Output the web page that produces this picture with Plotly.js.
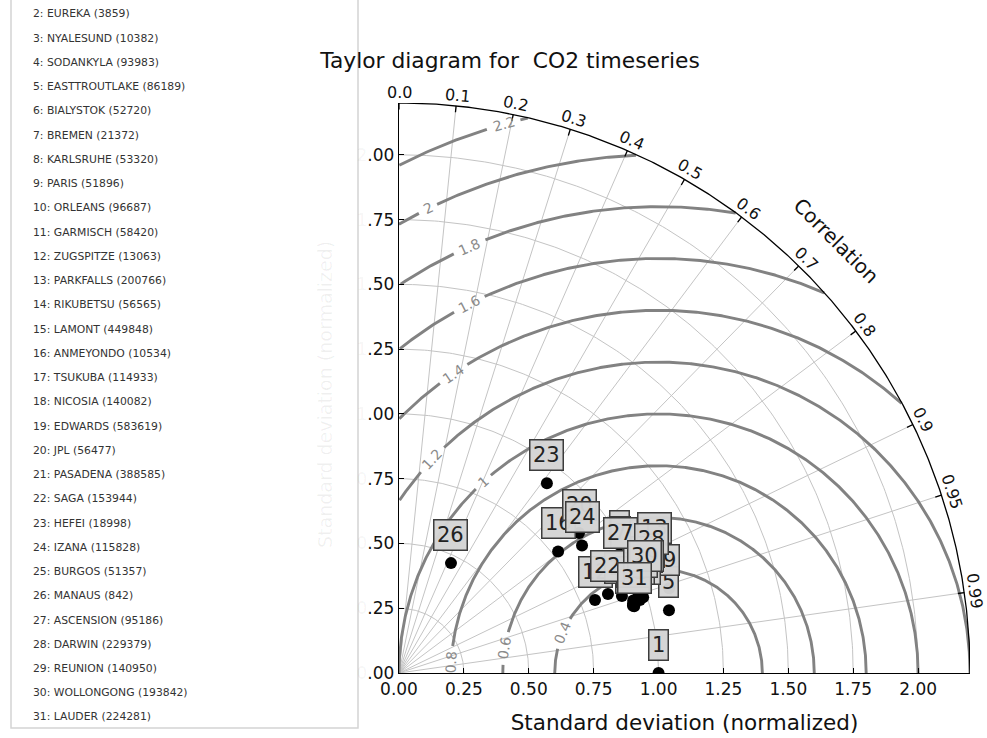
<!DOCTYPE html>
<html><head><meta charset="utf-8">
<script src="https://cdn.plot.ly/plotly-3.0.1.min.js"></script>
<style>html,body{margin:0;padding:0;background:#fff}</style>
</head><body><div id="chart" style="width:987px;height:738px"></div>
<script>
// ---------------- data ----------------
const stationNumbers = [1,2,3,4,5,6,7,8,9,10,11,12,13,14,15,16,17,18,19,20,21,22,23,24,25,26,27,28,29,30,31];
const stationNames = [null,'EUREKA','NYALESUND','SODANKYLA','EASTTROUTLAKE','BIALYSTOK','BREMEN','KARLSRUHE','PARIS','ORLEANS','GARMISCH','ZUGSPITZE','PARKFALLS','RIKUBETSU','LAMONT','ANMEYONDO','TSUKUBA','NICOSIA','EDWARDS','JPL','PASADENA','SAGA','HEFEI','IZANA','BURGOS','MANAUS','ASCENSION','DARWIN','REUNION','WOLLONGONG','LAUDER'];
const sampleCounts = [null,3859,10382,93983,86189,52720,21372,53320,51896,96687,58420,13063,200766,56565,449848,10534,114933,140082,583619,56477,388585,153944,18998,115828,51357,842,95186,229379,140950,193842,224281];
// normalized standard deviation and correlation of each station
const normStd = [1.000,0.940,0.965,1.011,1.068,1.058,0.957,0.970,1.091,0.938,1.007,0.806,1.085,0.985,0.966,0.772,1.015,0.909,1.021,0.879,0.945,0.861,0.928,0.860,0.983,0.469,0.955,1.057,1.012,1.008,0.942];
const corr    = [1.000,0.959,0.880,0.938,0.974,0.921,0.890,0.957,0.954,0.961,0.942,0.937,0.909,0.955,0.953,0.794,0.938,0.945,0.936,0.789,0.955,0.935,0.614,0.820,0.945,0.427,0.892,0.922,0.941,0.940,0.962];
// axis / grid definitions
const stdTicks = [0,0.25,0.5,0.75,1.0,1.25,1.5,1.75,2.0];
const stdGridLevels = [0.25,0.5,0.75,1.0,1.25,1.5,1.75,2.0];
const corrTicks = [0.0,0.1,0.2,0.3,0.4,0.5,0.6,0.7,0.8,0.9,0.95,0.99];
const corrTickLabels = ['0.0','0.1','0.2','0.3','0.4','0.5','0.6','0.7','0.8','0.9','0.95','0.99'];
const rmsLevels = [0.4,0.6,0.8,1.0,1.2,1.4,1.6,1.8,2.0,2.2];
const rmsLabelAngles = [157.5,170.9,177,132.5,136.6,124.4,117.1,113.9,116.3,105.7]; // label placement (deg around reference point)
const refStd = 1.0;
const RMAX = 2.2;

// ---------------- geometry helpers ----------------
const PX = 259.5; // px per unit (for label gaps)
const rad = a => a*Math.PI/180;
const L = 399, T = 103, W = 571, H = 570;
const px2paperX = X => (X - L)/W;
const px2paperY = Y => (T + H - Y)/H;
const d2p = v => v / RMAX; // data -> paper (both axes span 0..RMAX)

const traces = [];
// std dev arcs + correlation rays (thin grid)
let gx = [], gy = [];
stdGridLevels.forEach(r => {
  for (let a = 0; a <= 90.001; a += 0.5) { gx.push(r*Math.cos(rad(a))); gy.push(r*Math.sin(rad(a))); }
  gx.push(null); gy.push(null);
});
corrTicks.forEach(c => {
  if (c === 0) return;
  const t = Math.acos(c);
  gx.push(0, RMAX*Math.cos(t), null); gy.push(0, RMAX*Math.sin(t), null);
});
traces.push({x:gx, y:gy, mode:'lines', line:{color:'#c4c4c4', width:1}, hoverinfo:'skip', showlegend:false, cliponaxis:false});

// RMS contours
const annotations = [];
function labWidth(s, fs){ let w=0; for (const ch of s) w += (ch==='.'?0.318:0.636)*fs; return w; }
let cx = [], cy = [];
rmsLevels.forEach((R, i) => {
  const lab = String(R);
  const phiL = rad(rmsLabelAngles[i]);
  const dphi = (labWidth(lab,14)/2 + 5)/(R*PX);
  let prev = false;
  for (let a = 0; a <= 180.001; a += 0.25) {
    const p = rad(a);
    const x = refStd + R*Math.cos(p), y = R*Math.sin(p);
    const ok = x >= 0 && (x*x + y*y) <= RMAX*RMAX + 1e-9 && Math.abs(p - phiL) > dphi;
    if (ok) { cx.push(x); cy.push(y); prev = true; }
    else if (prev) { cx.push(null); cy.push(null); prev = false; }
  }
  cx.push(null); cy.push(null);
  annotations.push({x: refStd + R*Math.cos(phiL), y: R*Math.sin(phiL), xref:'x', yref:'y', text: lab,
    xanchor:'center', yanchor:'middle',
    showarrow:false, textangle: 90 - rmsLabelAngles[i], font:{size:14, color:'#8a8a8a'}});
});
traces.push({x:cx, y:cy, mode:'lines', line:{color:'#828282', width:2.9}, hoverinfo:'skip', showlegend:false, cliponaxis:false});

// outer arc + correlation ticks
let ox = [], oy = [];
for (let a = 0; a <= 90.001; a += 0.25) { ox.push(RMAX*Math.cos(rad(a))); oy.push(RMAX*Math.sin(rad(a))); }
ox.push(null); oy.push(null);
corrTicks.forEach(c => {
  const t = Math.acos(c);
  ox.push(RMAX*Math.cos(t), (RMAX-0.025)*Math.cos(t), null);
  oy.push(RMAX*Math.sin(t), (RMAX-0.025)*Math.sin(t), null);
});
traces.push({x:ox, y:oy, mode:'lines', line:{color:'#000', width:1.3}, hoverinfo:'skip', showlegend:false, cliponaxis:false});

// correlation labels (paper coords so those outside the axis range still show)
corrTicks.forEach((c, i) => {
  const t = Math.acos(c);
  const rl = RMAX + 0.042;
  annotations.push({x: d2p(rl*Math.cos(t)), y: d2p(rl*Math.sin(t)), xref:'paper', yref:'paper', text: corrTickLabels[i],
    xanchor:'center', yanchor:'middle', borderpad:0,
    showarrow:false, textangle: 90 - t*180/Math.PI, font:{size:16, color:'#111'}});
});
annotations.push({x: d2p(2.371*Math.cos(rad(44.7))), y: d2p(2.371*Math.sin(rad(44.7))), xref:'paper', yref:'paper', text:'Correlation',
  xanchor:'center', yanchor:'middle', showarrow:false, textangle:45, font:{size:20, color:'#111'}});

// station points
const px = normStd.map((s,i) => s*corr[i]);
const py = normStd.map((s,i) => s*Math.sqrt(Math.max(0,1 - corr[i]*corr[i])));
traces.push({x:px, y:py, mode:'markers', marker:{color:'#000', size:12}, text: stationNumbers.map(String),
  hoverinfo:'text', showlegend:false, cliponaxis:true});

// station labels (boxes)
stationNumbers.forEach((n, i) => {
  annotations.push({x: px[i], y: py[i], xref:'x', yref:'y', yshift:28, text: String(n), showarrow:false,
    xanchor:'center', yanchor:'middle',
    font:{size:21, color:'#222'}, bgcolor:'rgba(212,212,212,0.97)', bordercolor:'#3c3c3c', borderwidth:1.5, borderpad:2.5});
});

// station list (left box)
stationNumbers.forEach((n, i) => {
  if (!stationNames[i]) return;
  const Y = 14 + (n - 2)*24.24;
  annotations.push({x: px2paperX(31), y: px2paperY(Y), xref:'paper', yref:'paper', xanchor:'left', yanchor:'middle',
    text: n + ': ' + stationNames[i] + ' (' + sampleCounts[i] + ')', showarrow:false, font:{size:10.8, color:'#333'}});
});

// faded y title
annotations.push({x: px2paperX(325), y: px2paperY(395), xref:'paper', yref:'paper', text:'Standard deviation (normalized)',
  xanchor:'center', yanchor:'middle', textangle:-90, showarrow:false, font:{size:19, color:'rgba(0,0,0,0.06)'}});

const shapes = [
  {type:'rect', xref:'paper', yref:'paper', x0: px2paperX(11), x1: px2paperX(358), y0: px2paperY(728), y1: px2paperY(-10),
   line:{color:'#d4d4d4', width:1.5}, fillcolor:'rgba(0,0,0,0)', layer:'below'}
];

const axisCommon = {range:[0, RMAX], tickvals: stdTicks, ticks:'inside', ticklen:5, tickwidth:1,
  tickcolor:'#000', showline:true, linecolor:'#000', linewidth:1.3, showgrid:false, zeroline:false,
  tickfont:{size:17, color:'#111'}, fixedrange:true};
const xTickText = stdTicks.map(v => v.toFixed(2));
// y tick labels: the leading digit is faded out as in the reference
const yTickText = stdTicks.map(v => { const s = v.toFixed(2); return '<span style="color:rgba(0,0,0,0.05)">' + s[0] + '</span>' + s.slice(1); });

const layout = {
  width:987, height:738, autosize:false,
  margin:{l:L, r:987-L-W, t:T, b:738-T-H},
  paper_bgcolor:'#fff', plot_bgcolor:'#fff',
  font:{family:'DejaVu Sans, sans-serif', color:'#111'},
  title:{text:'Taylor diagram for  CO2 timeseries', x:510/987, xanchor:'center', xref:'container',
         y:1 - 60/738, yref:'container', yanchor:'middle', font:{size:21.8, color:'#111'}},
  xaxis: Object.assign({}, axisCommon, {ticktext:xTickText, title:{text:'Standard deviation (normalized)', font:{size:21.5, color:'#111'}, standoff:17}}),
  yaxis: Object.assign({}, axisCommon, {ticktext:yTickText}),
  annotations: annotations,
  shapes: shapes,
  showlegend:false
};
Plotly.newPlot('chart', traces, layout, {displayModeBar:false, staticPlot:true});
</script></body></html>
